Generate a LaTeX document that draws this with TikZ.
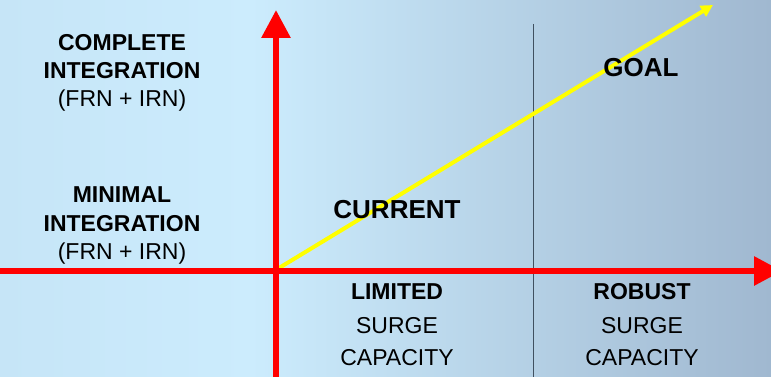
\documentclass[tikz,border=0pt]{standalone}
\usepackage{fontspec}
\setmainfont{Liberation Sans}
\usetikzlibrary{arrows.meta}
\definecolor{bgA}{RGB}{198,229,247}
\definecolor{bgB}{RGB}{204,236,253}
\definecolor{bgC}{RGB}{184,209,229}
\definecolor{bgD}{RGB}{160,184,208}
\definecolor{axred}{RGB}{255,0,0}
\definecolor{divline}{RGB}{64,80,96}
\definecolor{goalyel}{RGB}{255,255,0}
\tikzset{
  lbl/.style={inner sep=0pt, anchor=base, font=\fontsize{23}{28}\selectfont},
  blbl/.style={lbl, font=\fontsize{23}{28}\selectfont\bfseries},
  bigl/.style={inner sep=0pt, anchor=base, font=\fontsize{26}{30}\selectfont\bfseries},
  axisline/.style={draw=axred, line width=6pt, -{Triangle[length=28pt,width=28pt]}},
  goalarrow/.style={draw=goalyel, line width=4pt, -{Triangle[length=12pt,width=12pt]}},
}
\begin{document}
\begin{tikzpicture}[x=1pt,y=-1pt]
\useasboundingbox (0,0) rectangle (771,377);
\clip (0,0) rectangle (771,377);
% background
\fill[left color=bgA, right color=bgB, draw=none] (0,0) rectangle (251,377);
\fill[left color=bgB, middle color=bgC, right color=bgD, draw=none] (250,0) rectangle (771,377);
% coordinates
\coordinate (origin) at (276,271);
\coordinate (ytop) at (276,10);
\coordinate (ybot) at (276,380);
\coordinate (xleft) at (-5,271);
\coordinate (xright) at (782,271);
\coordinate (ystart) at (279,268);
\coordinate (yend) at (713,5);
\coordinate (divtop) at (533.5,24);
\coordinate (divbot) at (533.5,380);
% divider
\draw[divline, line width=1.6pt] (divtop) -- (divbot);
% goal line
\draw[goalarrow] (ystart) -- (yend);
% axes
\draw[axisline] (xleft) -- (xright);
\draw[axisline] (ybot) -- (ytop);
% left labels
\node[blbl] (c1) at (122,51) {COMPLETE};
\node[blbl] (c2) at (122,79) {INTEGRATION};
\node[lbl]  (c3) at (122,107) {(FRN + IRN)};
\node[blbl] (m1) at (122,202) {MINIMAL};
\node[blbl] (m2) at (122,231) {INTEGRATION};
\node[lbl]  (m3) at (122,259) {(FRN + IRN)};
% quadrant labels
\node[bigl] (cur) at (397,218) {CURRENT};
\node[bigl] (goal) at (641,77) {GOAL};
% bottom labels
\node[blbl] (l1) at (397,299) {LIMITED};
\node[lbl]  (l2) at (397,333) {SURGE};
\node[lbl]  (l3) at (397,365) {CAPACITY};
\node[blbl] (r1) at (642,299) {ROBUST};
\node[lbl]  (r2) at (642,333) {SURGE};
\node[lbl]  (r3) at (642,365) {CAPACITY};
\end{tikzpicture}
\end{document}
